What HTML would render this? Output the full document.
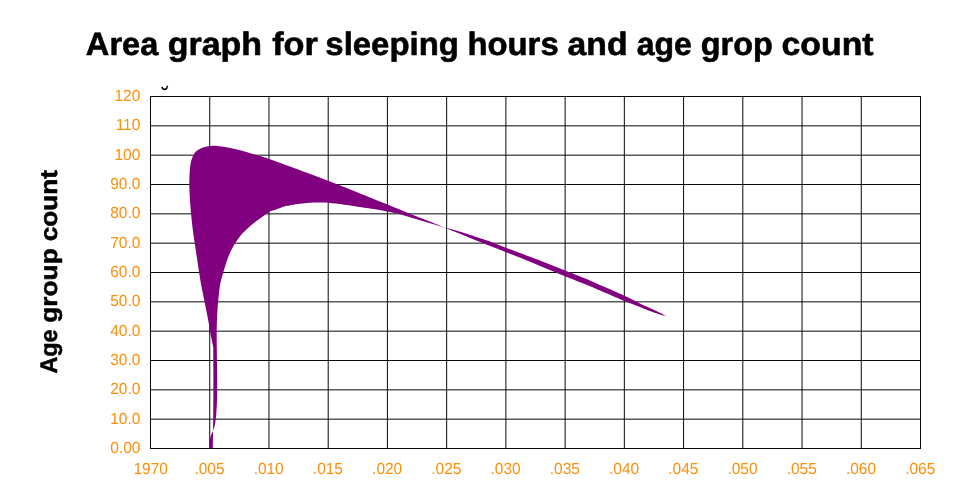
<!DOCTYPE html>
<html lang="en">
<head>
<meta charset="utf-8">
<title>Area graph for sleeping hours and age grop count</title>
<style>
html,body{margin:0;padding:0;background:#fff;}
body{width:960px;height:500px;overflow:hidden;font-family:"Liberation Sans",sans-serif;}
svg{display:block;position:absolute;left:0;top:0;}
svg text{text-rendering:geometricPrecision;}
.grid line{stroke:#040b0b;stroke-width:1;}
.tick text{font-family:"Liberation Sans",sans-serif;font-size:16px;fill:#ff8e08;}
.title{font-family:"Liberation Sans",sans-serif;font-weight:bold;font-size:32.3px;fill:#000;stroke:#000;stroke-width:0.6px;stroke-linejoin:round;}
.ylab{font-family:"Liberation Sans",sans-serif;font-weight:bold;font-size:24px;fill:#000;stroke:#000;stroke-width:0.5px;stroke-linejoin:round;}
.cut{font-family:"Liberation Sans",sans-serif;font-size:16px;fill:#000;}
</style>
</head>
<body>
<svg width="960" height="500" viewBox="0 0 960 500">
<defs><clipPath id="topclip"><rect x="0" y="85.7" width="960" height="415"/></clipPath></defs>
<text class="title" y="55" xml:space="preserve"><tspan x="85.86" textLength="72.42" lengthAdjust="spacingAndGlyphs">Area</tspan> <tspan x="167.76" textLength="94.35" lengthAdjust="spacingAndGlyphs">graph</tspan> <tspan x="272.19" textLength="45.71" lengthAdjust="spacingAndGlyphs">for</tspan> <tspan x="325.35" textLength="133.57" lengthAdjust="spacingAndGlyphs">sleeping</tspan> <tspan x="467.43" textLength="91.22" lengthAdjust="spacingAndGlyphs">hours</tspan> <tspan x="567.62" textLength="59.87" lengthAdjust="spacingAndGlyphs">and</tspan> <tspan x="636.69" textLength="55.15" lengthAdjust="spacingAndGlyphs">age</tspan> <tspan x="700.75" textLength="71.96" lengthAdjust="spacingAndGlyphs">grop</tspan> <tspan x="781.58" textLength="91.99" lengthAdjust="spacingAndGlyphs">count</tspan></text>
<g clip-path="url(#topclip)"><text class="cut" transform="translate(149.6,84.7) scale(1,1.55)">Age</text></g>
<g class="grid"><line x1="150.50" y1="96.00" x2="150.50" y2="449.00"/><line x1="209.73" y1="96.00" x2="209.73" y2="449.00"/><line x1="268.96" y1="96.00" x2="268.96" y2="449.00"/><line x1="328.19" y1="96.00" x2="328.19" y2="449.00"/><line x1="387.42" y1="96.00" x2="387.42" y2="449.00"/><line x1="446.65" y1="96.00" x2="446.65" y2="449.00"/><line x1="505.88" y1="96.00" x2="505.88" y2="449.00"/><line x1="565.12" y1="96.00" x2="565.12" y2="449.00"/><line x1="624.35" y1="96.00" x2="624.35" y2="449.00"/><line x1="683.58" y1="96.00" x2="683.58" y2="449.00"/><line x1="742.81" y1="96.00" x2="742.81" y2="449.00"/><line x1="802.04" y1="96.00" x2="802.04" y2="449.00"/><line x1="861.27" y1="96.00" x2="861.27" y2="449.00"/><line x1="920.50" y1="96.00" x2="920.50" y2="449.00"/><line x1="150.00" y1="96.50" x2="921.00" y2="96.50"/><line x1="150.00" y1="125.83" x2="921.00" y2="125.83"/><line x1="150.00" y1="155.17" x2="921.00" y2="155.17"/><line x1="150.00" y1="184.50" x2="921.00" y2="184.50"/><line x1="150.00" y1="213.83" x2="921.00" y2="213.83"/><line x1="150.00" y1="243.17" x2="921.00" y2="243.17"/><line x1="150.00" y1="272.50" x2="921.00" y2="272.50"/><line x1="150.00" y1="301.83" x2="921.00" y2="301.83"/><line x1="150.00" y1="331.17" x2="921.00" y2="331.17"/><line x1="150.00" y1="360.50" x2="921.00" y2="360.50"/><line x1="150.00" y1="389.83" x2="921.00" y2="389.83"/><line x1="150.00" y1="419.17" x2="921.00" y2="419.17"/><line x1="150.00" y1="448.50" x2="921.00" y2="448.50"/></g>
<path d="M666.00,316.10C665.67,316.05 665.00,316.05 664.00,315.80C663.00,315.55 662.33,315.38 660.00,314.60C657.67,313.82 653.33,312.37 650.00,311.10C646.67,309.83 644.33,308.72 640.00,307.00C635.67,305.28 630.67,303.55 624.00,300.80C617.33,298.05 605.67,292.93 600.00,290.50C594.33,288.07 596.67,288.92 590.00,286.20C583.33,283.48 570.00,278.27 560.00,274.20C550.00,270.12 540.00,265.82 530.00,261.75C520.00,257.68 509.17,253.39 500.00,249.75C490.83,246.11 484.25,243.62 475.00,239.90C465.75,236.18 454.50,231.43 444.50,227.40C434.50,223.37 424.92,219.68 415.00,215.70C405.08,211.72 394.17,207.20 385.00,203.50C375.83,199.80 369.17,197.17 360.00,193.50C350.83,189.83 340.00,185.38 330.00,181.50C320.00,177.62 310.00,173.97 300.00,170.25C290.00,166.53 276.67,161.57 270.00,159.20C263.33,156.82 263.67,157.12 260.00,156.00C256.33,154.88 252.00,153.62 248.00,152.50C244.00,151.38 239.83,150.22 236.00,149.30C232.17,148.38 228.83,147.58 225.00,147.00C221.17,146.42 216.50,145.77 213.00,145.80C209.50,145.83 206.50,146.50 204.00,147.20C201.50,147.90 199.67,148.87 198.00,150.00C196.33,151.13 195.08,152.33 194.00,154.00C192.92,155.67 192.17,157.67 191.50,160.00C190.83,162.33 190.33,165.33 190.00,168.00C189.67,170.67 189.62,173.17 189.50,176.00C189.38,178.83 189.27,181.83 189.30,185.00C189.33,188.17 189.53,191.67 189.70,195.00C189.87,198.33 190.05,201.67 190.30,205.00C190.55,208.33 190.88,211.67 191.20,215.00C191.52,218.33 191.82,221.67 192.20,225.00C192.58,228.33 193.03,231.67 193.50,235.00C193.97,238.33 194.50,241.67 195.00,245.00C195.50,248.33 196.00,251.67 196.50,255.00C197.00,258.33 197.50,261.67 198.00,265.00C198.50,268.33 198.97,271.67 199.50,275.00C200.03,278.33 200.58,281.67 201.20,285.00C201.82,288.33 202.53,291.67 203.20,295.00C203.87,298.33 204.53,301.67 205.20,305.00C205.87,308.33 206.55,311.67 207.20,315.00C207.85,318.33 208.52,321.67 209.10,325.00C209.68,328.33 210.15,332.00 210.70,335.00C211.25,338.00 211.97,340.83 212.40,343.00C212.83,345.17 213.15,347.17 213.30,348.00C213.30,350.00 213.28,353.83 213.30,360.00C213.32,366.17 213.42,375.00 213.40,385.00C213.38,395.00 213.30,409.47 213.20,420.00C213.10,430.53 212.87,443.50 212.80,448.20L210.00,448.20C210.00,447.17 209.93,443.87 210.00,442.00C210.07,440.13 209.98,438.67 210.40,437.00C210.82,435.33 211.83,433.67 212.50,432.00C213.17,430.33 213.88,429.00 214.40,427.00C214.92,425.00 215.27,422.50 215.60,420.00C215.93,417.50 216.17,415.33 216.40,412.00C216.63,408.67 216.87,404.50 217.00,400.00C217.13,395.50 217.20,390.83 217.20,385.00C217.20,379.17 217.07,370.83 217.00,365.00C216.93,359.17 216.85,355.00 216.80,350.00C216.75,345.00 216.70,339.17 216.70,335.00C216.70,330.83 216.72,328.33 216.80,325.00C216.88,321.67 217.03,318.33 217.20,315.00C217.37,311.67 217.53,308.33 217.80,305.00C218.07,301.67 218.43,298.33 218.80,295.00C219.17,291.67 219.38,288.33 220.00,285.00C220.62,281.67 221.58,278.33 222.50,275.00C223.42,271.67 224.42,268.33 225.50,265.00C226.58,261.67 227.58,258.33 229.00,255.00C230.42,251.67 232.00,248.33 234.00,245.00C236.00,241.67 239.00,237.50 241.00,235.00C243.00,232.50 244.17,231.75 246.00,230.00C247.83,228.25 249.67,226.42 252.00,224.50C254.33,222.58 257.00,220.67 260.00,218.50C263.00,216.33 267.33,213.02 270.00,211.50C272.67,209.98 274.17,210.03 276.00,209.40C277.83,208.77 279.50,208.22 281.00,207.70C282.50,207.18 281.83,206.97 285.00,206.30C288.17,205.63 294.25,204.33 300.00,203.70C305.75,203.07 313.25,202.50 319.50,202.50C325.75,202.50 330.75,202.95 337.50,203.70C344.25,204.45 353.75,206.07 360.00,207.00C366.25,207.93 370.83,208.58 375.00,209.25C379.17,209.92 380.83,210.16 385.00,211.00C389.17,211.84 395.00,213.00 400.00,214.30C405.00,215.60 410.00,217.32 415.00,218.80C420.00,220.28 425.08,221.77 430.00,223.20C434.92,224.63 440.17,226.20 444.50,227.40C448.83,228.60 452.42,229.38 456.00,230.40C459.58,231.42 462.83,232.48 466.00,233.50C469.17,234.52 471.00,235.15 475.00,236.50C479.00,237.85 485.83,240.10 490.00,241.60C494.17,243.10 493.33,242.97 500.00,245.50C506.67,248.03 520.00,252.97 530.00,256.80C540.00,260.63 550.00,264.55 560.00,268.50C570.00,272.45 583.33,277.75 590.00,280.50C596.67,283.25 594.33,282.50 600.00,285.00C605.67,287.50 617.33,292.42 624.00,295.50C630.67,298.58 635.67,301.40 640.00,303.50C644.33,305.60 646.67,306.55 650.00,308.10C653.33,309.65 657.67,311.67 660.00,312.80C662.33,313.93 663.00,314.35 664.00,314.90C665.00,315.45 665.67,315.90 666.00,316.10Z" fill="#800080"/>
<g class="tick"><text transform="translate(140.3,101.00) scale(0.965,1)" text-anchor="end">120</text><text transform="translate(140.3,130.33) scale(0.965,1)" text-anchor="end">110</text><text transform="translate(140.3,159.67) scale(0.965,1)" text-anchor="end">100</text><text transform="translate(140.3,189.00) scale(0.965,1)" text-anchor="end">90.0</text><text transform="translate(140.3,218.33) scale(0.965,1)" text-anchor="end">80.0</text><text transform="translate(140.3,247.67) scale(0.965,1)" text-anchor="end">70.0</text><text transform="translate(140.3,277.00) scale(0.965,1)" text-anchor="end">60.0</text><text transform="translate(140.3,306.33) scale(0.965,1)" text-anchor="end">50.0</text><text transform="translate(140.3,335.67) scale(0.965,1)" text-anchor="end">40.0</text><text transform="translate(140.3,365.00) scale(0.965,1)" text-anchor="end">30.0</text><text transform="translate(140.3,394.33) scale(0.965,1)" text-anchor="end">20.0</text><text transform="translate(140.3,423.67) scale(0.965,1)" text-anchor="end">10.0</text><text transform="translate(140.3,453.00) scale(0.965,1)" text-anchor="end">0.00</text></g>
<g class="tick"><text transform="translate(150.70,474.1) scale(0.965,1)" text-anchor="middle">1970</text><text transform="translate(209.43,474.1) scale(0.965,1)" text-anchor="middle">.005</text><text transform="translate(268.66,474.1) scale(0.965,1)" text-anchor="middle">.010</text><text transform="translate(327.89,474.1) scale(0.965,1)" text-anchor="middle">.015</text><text transform="translate(387.12,474.1) scale(0.965,1)" text-anchor="middle">.020</text><text transform="translate(446.35,474.1) scale(0.965,1)" text-anchor="middle">.025</text><text transform="translate(505.58,474.1) scale(0.965,1)" text-anchor="middle">.030</text><text transform="translate(564.82,474.1) scale(0.965,1)" text-anchor="middle">.035</text><text transform="translate(624.05,474.1) scale(0.965,1)" text-anchor="middle">.040</text><text transform="translate(683.28,474.1) scale(0.965,1)" text-anchor="middle">.045</text><text transform="translate(742.51,474.1) scale(0.965,1)" text-anchor="middle">.050</text><text transform="translate(801.74,474.1) scale(0.965,1)" text-anchor="middle">.055</text><text transform="translate(860.97,474.1) scale(0.965,1)" text-anchor="middle">.060</text><text transform="translate(920.20,474.1) scale(0.965,1)" text-anchor="middle">.065</text></g>
<text class="ylab" transform="translate(57.2,373.5) rotate(-90)" xml:space="preserve"><tspan x="-0.12" textLength="44.21" lengthAdjust="spacingAndGlyphs">Age</tspan> <tspan x="50.72" textLength="74.48" lengthAdjust="spacingAndGlyphs">group</tspan> <tspan x="132.16" textLength="71.30" lengthAdjust="spacingAndGlyphs">count</tspan></text>
</svg>
</body>
</html>
